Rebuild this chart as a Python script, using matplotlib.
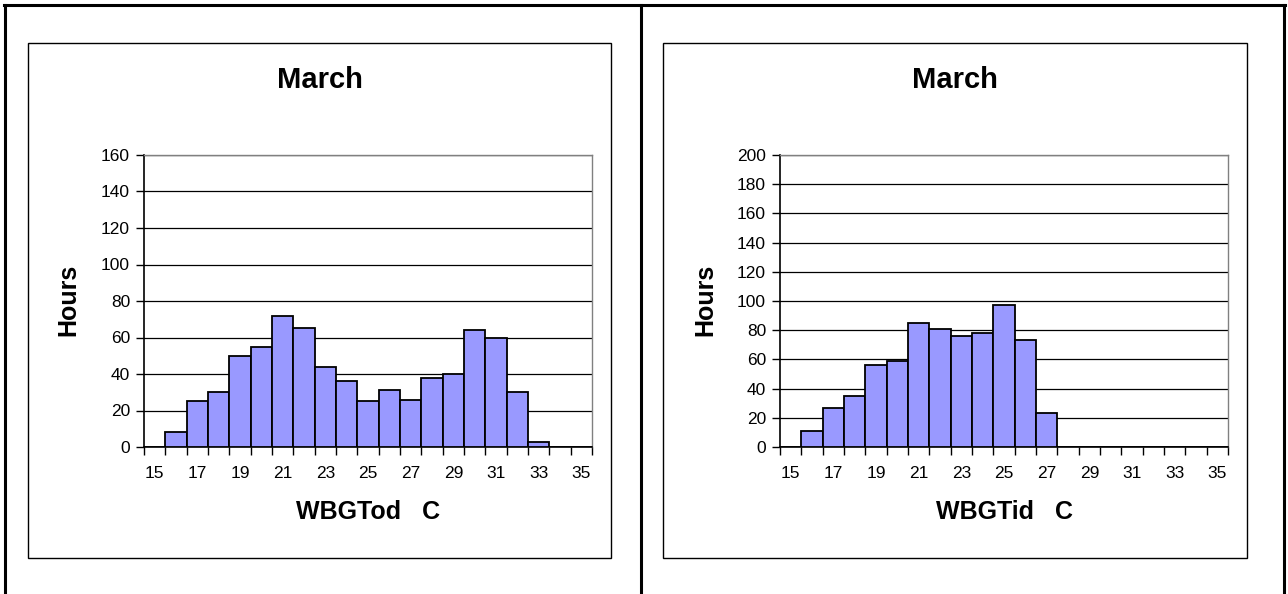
import matplotlib
matplotlib.use("Agg")
import matplotlib.pyplot as plt
from matplotlib.patches import Rectangle
from matplotlib.lines import Line2D

plt.rcParams['font.family'] = ['Liberation Sans', 'DejaVu Sans']

# Temperature bins (deg C) and hours per bin
temps = list(range(15, 36))
tick_labels = [str(t) for t in temps[::2]]
hours_od = [0, 8, 25, 30, 50, 55, 72, 65, 44, 36, 25, 31, 26, 38, 40, 64, 60, 30, 3, 0, 0]
hours_id = [0, 11, 27, 35, 56, 59, 85, 81, 76, 78, 97, 73, 23, 0, 0, 0, 0, 0, 0, 0, 0]

titles = ["March", "March"]
xlabels = ["WBGTod   C", "WBGTid   C"]
ylabel = "Hours"
ymaxes = [160, 200]

W, H = 1288, 594
fig = plt.figure(figsize=(W / 100, H / 100), dpi=100)

def fx(px):
    return px / W

def fy(py):
    return 1 - py / H

# outer table rules
for x in (5, 641, 1284):
    fig.add_artist(Line2D([fx(x), fx(x)], [fy(5), 0], color='black', lw=2.2,
                          transform=fig.transFigure))
fig.add_artist(Line2D([fx(4), fx(1285)], [fy(5), fy(5)], color='black', lw=2.2,
                      transform=fig.transFigure))

panels = [
    dict(box=(28, 43, 611, 558), ax=(144, 155, 592, 447), ylab_x=68, data=hours_od),
    dict(box=(663, 43, 1247, 558), ax=(780, 155, 1228, 447), ylab_x=705, data=hours_id),
]

for i, p in enumerate(panels):
    bx0, by0, bx1, by1 = p['box']
    fig.add_artist(Rectangle((fx(bx0), fy(by1)), fx(bx1 - bx0), (by1 - by0) / H,
                             fill=False, edgecolor='black', lw=1.0,
                             transform=fig.transFigure))
    ax0, ay0, ax1, ay1 = p['ax']
    ax = fig.add_axes([fx(ax0), fy(ay1), fx(ax1 - ax0), (ay1 - ay0) / H])
    xs = list(range(len(temps)))
    ax.bar(xs, p['data'], width=1.0, color='#9999FF', edgecolor='black',
           linewidth=1.3, zorder=3)
    ax.set_xlim(-0.5, len(temps) - 0.5)
    ax.set_ylim(0, ymaxes[i])
    ax.set_yticks(range(0, ymaxes[i] + 1, 20))
    ax.yaxis.grid(True, color='black', lw=0.9, zorder=0)
    ax.set_axisbelow(True)
    # boundaries carry the tick marks, centres carry the labels
    ax.set_xticks([x - 0.5 for x in range(len(temps) + 1)])
    ax.set_xticklabels([])
    ax.set_xticks(xs[::2], minor=True)
    ax.set_xticklabels(tick_labels, minor=True)
    ax.tick_params(axis='x', which='major', length=6, width=1, direction='out')
    ax.tick_params(axis='x', which='minor', length=0, pad=14, labelsize=12.5)
    ax.tick_params(axis='y', length=6, width=1, direction='out', pad=4, labelsize=12.5)
    for side in ('top', 'right'):
        ax.spines[side].set_color('#808080')
        ax.spines[side].set_linewidth(1.0)
    for side in ('left', 'bottom'):
        ax.spines[side].set_color('black')
        ax.spines[side].set_linewidth(1.2)
    fig.text(fx((bx0 + bx1) / 2), fy(80), titles[i], ha='center', va='center',
             fontsize=21, fontweight='bold')
    fig.text(fx((ax0 + ax1) / 2), fy(512), xlabels[i], ha='center', va='center',
             fontsize=18, fontweight='bold')
    fig.text(fx(p['ylab_x']), fy(300), ylabel, ha='center', va='center',
             rotation=90, fontsize=18, fontweight='bold')

fig.savefig('out.png', dpi=100)
